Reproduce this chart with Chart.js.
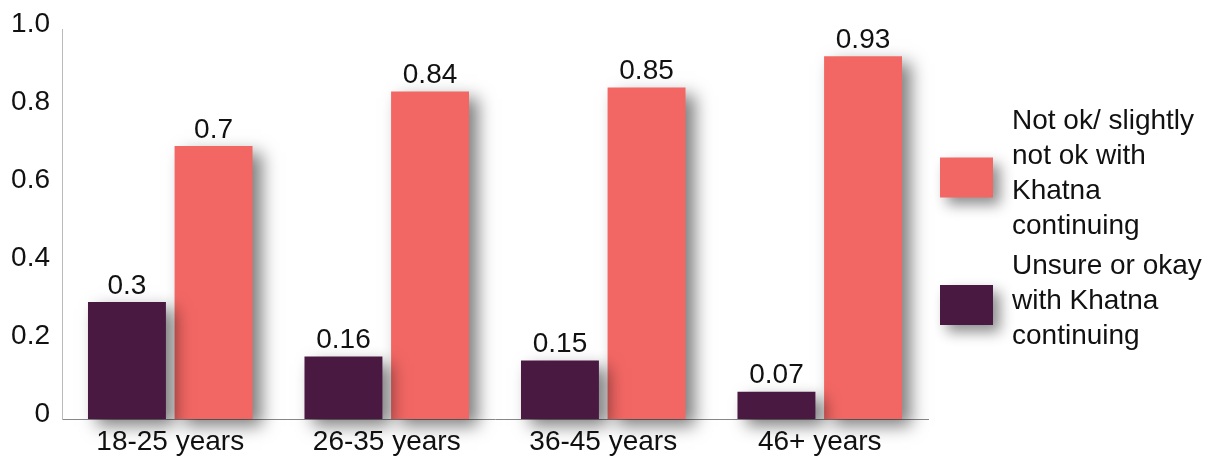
<!DOCTYPE html>
<html>
<head>
<meta charset="utf-8">
<script src="https://cdn.jsdelivr.net/npm/chart.js@4"></script>
<style>
  html, body { margin: 0; padding: 0; background: #fff; }
  #wrap { width: 1219px; height: 457px; position: relative; }
</style>
</head>
<body>
<div id="wrap"><canvas id="grafico"></canvas></div>
<script>
const categorias = ['18-25 years', '26-35 years', '36-45 years', '46+ years'];
const valoresInseguro = [0.3, 0.16, 0.15, 0.07];
const valoresNoOk = [0.7, 0.84, 0.85, 0.93];
const etiquetasY = ['0', '0.2', '0.4', '0.6', '0.8', '1.0'];
const leyendaNoOk = ['Not ok/ slightly', 'not ok with', 'Khatna', 'continuing'];
const leyendaInseguro = ['Unsure or okay', 'with Khatna', 'continuing'];

const colorMorado = '#4a1942';
const colorRojo = '#f26764';
const fuente = 'Liberation Sans, Arial, sans-serif';

// sombra de las barras
const sombraBarras = {
    id: 'sombraBarras',
    beforeDatasetsDraw(chart) {
        const ctx = chart.ctx;
        ctx.save();
        ctx.shadowColor = 'rgba(0,0,0,0.5)';
        ctx.shadowBlur = 16;
        ctx.shadowOffsetX = 9;
        ctx.shadowOffsetY = 7;
    },
    afterDatasetsDraw(chart) {
        chart.ctx.restore();
    }
};

// valores encima de cada barra
const etiquetasValor = {
    id: 'etiquetasValor',
    afterDatasetsDraw(chart) {
        const ctx = chart.ctx;
        ctx.save();
        ctx.font = '28px ' + fuente;
        ctx.fillStyle = '#111';
        ctx.textAlign = 'center';
        ctx.textBaseline = 'bottom';
        chart.data.datasets.forEach((ds, i) => {
            chart.getDatasetMeta(i).data.forEach((bar, j) => {
                ctx.fillText(String(ds.data[j]), bar.x, bar.y - 2);
            });
        });
        ctx.restore();
    }
};

// leyenda con varias lineas
const leyendaMultilinea = {
    id: 'leyendaMultilinea',
    afterDraw(chart) {
        const ctx = chart.ctx;
        const items = [
            { color: colorRojo, lineas: leyendaNoOk },
            { color: colorMorado, lineas: leyendaInseguro }
        ];
        const alto = 35;
        let y = 121;
        ctx.save();
        ctx.font = '28px ' + fuente;
        ctx.textBaseline = 'middle';
        ctx.textAlign = 'left';
        items.forEach(item => {
            const centro = y + (item.lineas.length - 1) * alto / 2;
            ctx.save();
            ctx.shadowColor = 'rgba(0,0,0,0.45)';
            ctx.shadowBlur = 14;
            ctx.shadowOffsetX = 7;
            ctx.shadowOffsetY = 7;
            ctx.fillStyle = item.color;
            ctx.fillRect(940, centro - 16, 53, 40);
            ctx.restore();
            ctx.fillStyle = '#111';
            item.lineas.forEach((l, k) => ctx.fillText(l, 1012, y + k * alto));
            y += item.lineas.length * alto + 5;
        });
        ctx.restore();
    }
};

new Chart(document.getElementById('grafico'), {
    type: 'bar',
    data: {
        labels: categorias,
        datasets: [
            {
                label: 'Unsure or okay with Khatna continuing',
                data: valoresInseguro,
                backgroundColor: colorMorado,
                clip: false,
                categoryPercentage: 0.8,
                barPercentage: 0.9
            },
            {
                label: 'Not ok/ slightly not ok with Khatna continuing',
                data: valoresNoOk,
                backgroundColor: colorRojo,
                clip: false,
                categoryPercentage: 0.8,
                barPercentage: 0.9
            }
        ]
    },
    options: {
        responsive: true,
        maintainAspectRatio: false,
        animation: false,
        layout: { padding: { top: 29, right: 291, left: 0, bottom: 0 } },
        plugins: {
            legend: { display: false },
            tooltip: { enabled: false },
            title: { display: false }
        },
        scales: {
            x: {
                grid: { display: false, drawTicks: false },
                border: { display: true, color: '#888', width: 1 },
                ticks: { color: '#111', font: { size: 28, family: fuente }, padding: 6, maxRotation: 0 },
                afterFit: s => { s.height = 38; }
            },
            y: {
                min: 0,
                max: 1,
                grid: { display: false, drawTicks: false },
                border: { display: true, color: '#bbb', width: 1 },
                ticks: {
                    stepSize: 0.2,
                    color: '#111',
                    font: { size: 28, family: fuente },
                    padding: 12,
                    labelOffset: -5,
                    callback: (v, i) => etiquetasY[i]
                },
                afterFit: s => { s.width = 62; }
            }
        }
    },
    plugins: [sombraBarras, etiquetasValor, leyendaMultilinea]
});
</script>
</body>
</html>
